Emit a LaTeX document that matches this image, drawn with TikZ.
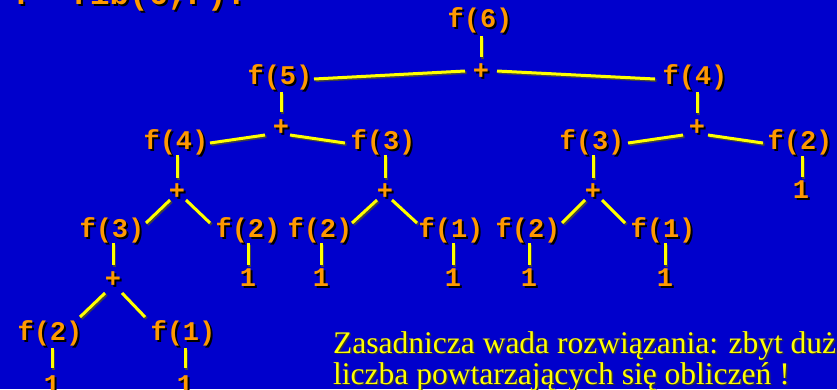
\documentclass[tikz,border=0pt]{standalone}
\usepackage{fontspec}
\setmainfont{Liberation Serif}
\newfontfamily\courb{Liberation Mono}
\definecolor{bg}{RGB}{0,0,204}
\definecolor{org}{RGB}{255,153,0}
\definecolor{yel}{RGB}{255,255,0}
\tikzset{
  lbl/.style={font=\courb\bfseries\fontsize{27}{27}\selectfont, text=org, inner sep=0pt},
  shd/.style={text=black, xshift=2pt, yshift=-2pt},
  ln/.style={draw=yel, line width=3pt},
  lnshadow/.style={draw=black!75, line width=3pt, transform canvas={shift={(1.5,1.5)}}},
  note/.style={font=\fontsize{31.5}{31}\selectfont, text=yel, inner sep=0pt, anchor=base west},
  query/.style={font=\courb\bfseries\fontsize{32.5}{32.5}\selectfont, text=org, inner sep=0pt, anchor=base west},
}
\newcommand\tn[3]{%
  \node[lbl,shd] (#1s) at (#2) {#3};
  \node[lbl] (#1) at (#2) {#3};}
\newcommand\cn[4]{%
  \draw[lnshadow] ([shift={(#2)}]#1.center) -- ([shift={(#4)}]#3.center);
  \draw[ln] ([shift={(#2)}]#1.center) -- ([shift={(#4)}]#3.center);}
\begin{document}
\begin{tikzpicture}[x=1pt,y=-1pt]
\useasboundingbox (0,0) rectangle (837,389);
\clip (0,0) rectangle (837,389);
\fill[bg] (0,0) rectangle (837,389);

% query (cut at top)
\node[query,text=black] (qs) at (14,6) {?- fib(6,F).};
\node[query] (q) at (12,4) {?- fib(6,F).};

% level 0
\tn{f6}{480,20}{f(6)}
\tn{p1}{481,72}{+}
% level 1
\tn{f5}{280,77}{f(5)}
\tn{f4R}{695,77}{f(4)}
\tn{p2}{281,128}{+}
\tn{p3}{697,128}{+}
% level 2
\tn{f4L}{176,142}{f(4)}
\tn{f3M}{383,142}{f(3)}
\tn{f3R}{592,142}{f(3)}
\tn{f2R}{800,142}{f(2)}
\tn{oneA}{801,190}{1}
\tn{p4}{177,192}{+}
\tn{p5}{385,192}{+}
\tn{p6}{593,192}{+}
% level 3
\tn{f3LL}{112,230}{f(3)}
\tn{f2a}{248,230}{f(2)}
\tn{f2b}{320,230}{f(2)}
\tn{f1a}{451,230}{f(1)}
\tn{f2c}{528,230}{f(2)}
\tn{f1b}{663,230}{f(1)}
\tn{p7}{113,280}{+}
\tn{oneB}{248,278}{1}
\tn{oneC}{321,278}{1}
\tn{oneD}{453,278}{1}
\tn{oneE}{529,278}{1}
\tn{oneF}{665,278}{1}
% level 4
\tn{f2d}{50,333}{f(2)}
\tn{f1c}{183,333}{f(1)}
\tn{oneG}{52,385}{1}
\tn{oneH}{185,385}{1}

% connectors
\cn{f6}{1,16}{p1}{0,-15}
\cn{p1}{-16,-1}{f5}{34,2}
\cn{p1}{16,-1}{f4R}{-40,2}
\cn{f5}{1,15}{p2}{0,-16}
\cn{f4R}{2,15}{p3}{0,-15}
\cn{p2}{-16,7}{f4L}{34,1}
\cn{p2}{9,7}{f3M}{-38,1}
\cn{p3}{-14,7}{f3R}{36,1}
\cn{p3}{11,7}{f2R}{-37,1}
\cn{f2R}{2,14}{oneA}{1,-13}
\cn{f4L}{1,13}{p4}{0,-14}
\cn{f3M}{2,13}{p5}{0,-14}
\cn{f3R}{1,13}{p6}{0,-14}
\cn{p4}{-7,8}{f3LL}{34,-7}
\cn{p4}{9,8}{f2a}{-38,-7}
\cn{p5}{-8,8}{f2b}{32,-7}
\cn{p5}{7,8}{f1a}{-34,-7}
\cn{p6}{-8,8}{f2c}{34,-7}
\cn{p6}{9,8}{f1b}{-38,-7}
\cn{f3LL}{1,13}{p7}{0,-15}
\cn{f2a}{0,13}{oneB}{0,-13}
\cn{f2b}{1,13}{oneC}{0,-13}
\cn{f1a}{2,13}{oneD}{0,-13}
\cn{f2c}{1,13}{oneE}{0,-13}
\cn{f1b}{2,13}{oneF}{0,-13}
\cn{p7}{-8,13}{f2d}{30,-16}
\cn{p7}{9,13}{f1c}{-38,-16}
\cn{f2d}{2,15}{oneG}{0,-17}
\cn{f1c}{2,15}{oneH}{0,-17}

% note
\node[note,text=black!80] (n1s) at (334.5,354.5) {Zasadnicza wada rozwiązania: zbyt duża};
\node[note] (n1) at (333,353) {Zasadnicza wada rozwiązania: zbyt duża};
\node[note,text=black!80] (n2s) at (334.5,385.5) {liczba powtarzających się obliczeń !};
\node[note] (n2) at (333,384) {liczba powtarzających się obliczeń !};
\end{tikzpicture}
\end{document}
